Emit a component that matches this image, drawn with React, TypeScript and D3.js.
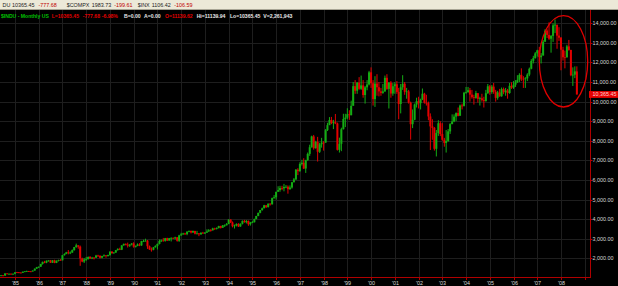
import React from "react";
import * as d3 from "d3";

// ---- Data: $INDU monthly, Jun 1984 .. Sep 2008 ----
const startMonth = new Date(1984, 5, 1);
const firstOpen = 1104.85;

const closes = [
  1132.40, 1115.28, 1224.38, 1206.71, 1207.38, 1188.94, 1211.57,
  1286.77, 1284.01, 1266.78, 1258.06, 1315.41, 1335.46, 1347.45, 1334.01, 1328.63, 1374.31, 1472.13, 1546.67,
  1570.99, 1709.06, 1818.61, 1783.98, 1876.71, 1892.72, 1775.31, 1898.34, 1767.58, 1877.81, 1914.23, 1895.95,
  2158.04, 2223.99, 2304.69, 2286.36, 2291.57, 2418.53, 2572.07, 2662.95, 2596.28, 1993.53, 1833.55, 1938.83,
  1958.22, 2071.62, 1988.06, 2032.33, 2031.12, 2141.71, 2128.73, 2031.65, 2112.91, 2148.65, 2114.51, 2168.57,
  2342.32, 2258.39, 2293.62, 2418.80, 2480.15, 2440.06, 2660.66, 2737.27, 2692.82, 2645.08, 2706.27, 2753.20,
  2590.54, 2627.25, 2707.21, 2656.76, 2876.66, 2880.69, 2905.20, 2614.36, 2452.48, 2442.33, 2559.65, 2633.66,
  2736.39, 2882.18, 2913.86, 2887.87, 3027.50, 2906.75, 3024.82, 3043.60, 3016.77, 3069.10, 2894.68, 3168.83,
  3223.39, 3267.67, 3235.47, 3359.12, 3396.88, 3318.52, 3393.78, 3257.35, 3271.66, 3226.28, 3305.16, 3301.11,
  3310.03, 3370.81, 3435.11, 3427.55, 3527.43, 3516.08, 3539.47, 3651.25, 3555.12, 3680.59, 3683.95, 3754.09,
  3978.36, 3832.02, 3635.96, 3681.69, 3758.37, 3624.96, 3764.50, 3913.42, 3843.19, 3908.12, 3739.23, 3834.44,
  3843.86, 4011.05, 4157.69, 4321.27, 4465.14, 4556.10, 4708.47, 4610.56, 4789.08, 4755.48, 5074.49, 5117.12,
  5395.30, 5485.62, 5587.14, 5569.08, 5643.18, 5654.63, 5528.91, 5616.21, 5882.17, 6029.38, 6521.70, 6448.27,
  6813.09, 6877.74, 6583.48, 7008.99, 7331.04, 7672.79, 8222.61, 7622.42, 7945.26, 7442.08, 7823.13, 7908.25,
  7906.50, 8545.72, 8799.81, 9063.37, 8899.95, 8952.02, 8883.29, 7539.07, 7842.62, 8592.10, 9116.55, 9181.43,
  9358.83, 9306.58, 9786.16, 10789.04, 10559.74, 10970.80, 10655.15, 10829.28, 10336.95, 10729.86, 10877.81, 11497.12,
  10940.53, 10128.31, 10921.92, 10733.91, 10522.33, 10447.89, 10521.98, 11215.10, 10650.92, 10971.14, 10414.49, 10786.85,
  10887.36, 10495.28, 9878.78, 10734.97, 10911.94, 10502.40, 10522.81, 9949.75, 8847.56, 9075.14, 9851.56, 10021.50,
  9920.00, 10106.13, 10403.94, 9946.22, 9925.25, 9243.26, 8736.59, 8663.50, 7591.93, 8397.03, 8896.09, 8341.63,
  8053.81, 7891.08, 7992.13, 8480.09, 8850.26, 8985.44, 9233.80, 9415.82, 9275.06, 9801.12, 9782.46, 10453.92,
  10488.07, 10583.92, 10357.70, 10225.57, 10188.45, 10435.48, 10139.71, 10173.92, 10080.27, 10027.47, 10428.02, 10783.01,
  10489.94, 10766.23, 10503.76, 10192.51, 10467.48, 10274.97, 10640.91, 10481.60, 10568.70, 10440.07, 10805.87, 10717.50,
  10864.86, 10993.41, 11109.32, 11367.14, 11168.31, 11150.22, 11185.68, 11381.15, 11679.07, 12080.73, 12221.93, 12463.15,
  12621.69, 12268.63, 12354.35, 13062.91, 13627.64, 13408.62, 13211.99, 13357.74, 13895.63, 13930.01, 13371.72, 13264.82,
  12650.36, 12266.39, 12262.89, 12820.13, 12638.32, 11350.01, 11378.02, 11543.55, 10365.45,
];

const highs = [
  1143, 1140, 1245, 1245, 1230, 1235, 1220,
  1295, 1305, 1300, 1290, 1320, 1345, 1370, 1355, 1345, 1380, 1480, 1560,
  1580, 1720, 1830, 1870, 1890, 1900, 1915, 1910, 1925, 1890, 1930, 1960,
  2170, 2250, 2330, 2420, 2350, 2450, 2580, 2750, 2660, 2650, 2030, 2010,
  2070, 2090, 2110, 2070, 2060, 2175, 2180, 2150, 2130, 2200, 2160, 2185,
  2350, 2360, 2320, 2425, 2510, 2540, 2670, 2750, 2760, 2800, 2720, 2780,
  2820, 2660, 2760, 2770, 2890, 2950, 3000, 2930, 2650, 2550, 2580, 2660,
  2750, 2960, 2960, 3040, 3040, 3050, 3040, 3070, 3060, 3100, 3080, 3200,
  3300, 3300, 3300, 3380, 3420, 3420, 3420, 3410, 3400, 3290, 3320, 3350,
  3340, 3480, 3490, 3490, 3560, 3560, 3580, 3660, 3660, 3700, 3730, 3800,
  3990, 3990, 3880, 3720, 3780, 3790, 3780, 3930, 3960, 3950, 3930, 3860,
  3900, 4020, 4170, 4330, 4470, 4590, 4730, 4700, 4800, 4810, 5100, 5230,
  5400, 5680, 5700, 5700, 5800, 5740, 5720, 5720, 5900, 6100, 6560, 6600,
  6900, 7030, 7110, 7030, 7400, 7800, 8260, 8300, 8000, 8200, 7900, 8150,
  7980, 8600, 8920, 9210, 9220, 9070, 9370, 8930, 8160, 8670, 9380, 9380,
  9660, 9560, 10050, 11000, 11100, 11000, 11250, 11330, 11100, 10800, 11100, 11570,
  11750, 11100, 11300, 11400, 11000, 10700, 10900, 11330, 11400, 11000, 11050, 10950,
  11000, 11050, 10700, 10900, 11350, 11000, 10700, 10600, 10000, 9600, 9900, 10200,
  10250, 10150, 10670, 10450, 10350, 10000, 9400, 9100, 8700, 8550, 9050, 9000,
  8900, 8150, 8550, 8600, 8900, 9350, 9350, 9450, 9700, 9850, 9900, 10500,
  10750, 10750, 10700, 10600, 10350, 10550, 10400, 10250, 10400, 10250, 10600, 10900,
  10850, 10850, 10950, 10600, 10550, 10650, 10720, 10720, 10700, 10650, 10950, 10990,
  11050, 11100, 11350, 11450, 11700, 11300, 11250, 11450, 11740, 12170, 12340, 12530,
  12650, 12800, 12480, 13150, 13700, 13700, 14050, 13400, 14000, 14200, 13900, 13800,
  13300, 12800, 12600, 12900, 13150, 12650, 11750, 11800, 11800,
];

const lows = [
  1086, 1078, 1110, 1190, 1180, 1180, 1160,
  1180, 1265, 1245, 1245, 1250, 1295, 1315, 1310, 1295, 1320, 1365, 1455,
  1500, 1560, 1680, 1750, 1750, 1830, 1760, 1760, 1750, 1755, 1840, 1890,
  1895, 2140, 2210, 2200, 2215, 2280, 2390, 2540, 2490, 1616, 1800, 1760,
  1870, 1940, 1980, 1960, 1940, 2020, 2080, 1990, 2000, 2090, 2030, 2090,
  2130, 2240, 2240, 2280, 2390, 2420, 2420, 2640, 2660, 2550, 2580, 2660,
  2540, 2550, 2620, 2620, 2640, 2830, 2850, 2480, 2430, 2340, 2410, 2550,
  2450, 2710, 2830, 2850, 2850, 2880, 2900, 2860, 2980, 2960, 2850, 2840,
  3150, 3200, 3200, 3180, 3330, 3270, 3300, 3220, 3230, 3130, 3200, 3260,
  3240, 3300, 3350, 3360, 3420, 3450, 3470, 3530, 3520, 3560, 3600, 3680,
  3740, 3800, 3580, 3520, 3630, 3600, 3610, 3730, 3820, 3780, 3660, 3670,
  3800, 3830, 3990, 4150, 4300, 4430, 4550, 4570, 4600, 4690, 4750, 5040,
  5000, 5400, 5400, 5480, 5420, 5580, 5300, 5500, 5560, 5880, 6000, 6250,
  6420, 6740, 6560, 6360, 6980, 7230, 7650, 7550, 7600, 6940, 7380, 7650,
  7500, 7900, 8500, 8800, 8850, 8600, 8850, 7500, 7400, 7470, 8580, 8700,
  9100, 9070, 9300, 9800, 10400, 10400, 10600, 10600, 10200, 9900, 10580, 10830,
  10700, 9800, 9730, 10300, 10270, 10300, 10400, 10500, 10600, 9650, 10200, 10300,
  10400, 10400, 9100, 9400, 10600, 10350, 10150, 9900, 8060, 8650, 9050, 9700,
  9650, 9600, 10080, 9900, 9800, 9050, 7530, 8050, 7500, 7200, 8250, 8240,
  8000, 7700, 7400, 7950, 8350, 8850, 8950, 9000, 9250, 9300, 9600, 9750,
  10400, 10450, 10000, 10150, 9850, 10150, 9950, 9800, 10000, 9700, 10000, 10400,
  10350, 10400, 10400, 10000, 10100, 10250, 10250, 10380, 10300, 10150, 10400, 10650,
  10650, 10750, 10950, 11000, 11050, 10700, 10700, 11050, 11300, 11650, 11950, 12200,
  12300, 12050, 11950, 12350, 13050, 13250, 13150, 12500, 13050, 13500, 12700, 13100,
  11600, 12100, 11700, 12250, 12600, 11300, 10800, 11200, 10365.45,
];

const valueTicks = [2000, 3000, 4000, 5000, 6000, 7000, 8000, 9000, 10000, 11000, 12000, 13000, 14000];
const tickYears = [1985, 1986, 1987, 1988, 1989, 1990, 1991, 1992, 1993, 1994, 1995, 1996, 1997, 1998, 1999, 2000, 2001, 2002, 2003, 2004, 2005, 2006, 2007, 2008, 2009];
const yearLabels = ["'85", "'86", "'87", "'88", "'89", "'90", "'91", "'92", "'93", "'94", "'95", "'96", "'97", "'98", "'99", "'00", "'01", "'02", "'03", "'04", "'05", "'06", "'07", "'08", ""];
const lastValue = 10365.45;

// quote bar (first symbol is scrolled off the left edge in the reference: only "DU" shows)
const toolbarSyms = ["DU", "$COMPX", "$INX"];
const toolbarLast = ["10365.45", "1983.73", "1106.42"];
const toolbarChg = ["-777.68", "-199.61", "-106.59"];

const GREEN = "#14ac14";
const RED = "#e20000";
const AXIS = "#b00000";
const GRID = "#1e1e1e";
const FONT = "'Liberation Sans', Arial, sans-serif";

export default function App() {
  const W = 618, H = 286;
  const plotTop = 10, plotBottom = 277, plotRight = 590;

  const x = d3.scaleTime()
    .domain([new Date(1985, 0, 1), new Date(2008, 0, 1)])
    .range([15, 561]);
  const y = d3.scaleLinear().domain([2000, 14000]).range([258.3, 23.3]);

  const months = d3.timeMonth.range(startMonth, d3.timeMonth.offset(startMonth, closes.length));
  const candles = closes.map((c, i) => ({
    date: months[i],
    o: i === 0 ? firstOpen : closes[i - 1],
    h: highs[i],
    l: lows[i],
    c,
  }));
  const fmt = d3.format(",.2f");

  const fs = 5.4;
  const hfs = 5.1;
  const tbX = [[2.5, 12, 38.5], [66.7, 91.7, 114.3], [137.7, 151.7, 174.3]];

  return (
    <svg width={W} height={H} style={{ position: "fixed", left: 0, top: 0, display: "block" }}
      fontFamily={FONT}>
      <rect x={0} y={0} width={W} height={H} fill="#000" />
      {/* quote bar */}
      <rect x={0} y={0} width={W} height={plotTop} fill="#ece9d8" />
      <line x1={0} x2={W} y1={plotTop - 0.5} y2={plotTop - 0.5} stroke="#a8a595" strokeWidth={1} />
      <g fontSize={fs} dominantBaseline="central">
        {toolbarSyms.map((s, i) => (
          <g key={"tb" + i}>
            <text x={tbX[i][0]} y={4.8} fill="#222">{s}</text>
            <text x={tbX[i][1]} y={4.8} fill="#222">{toolbarLast[i]}</text>
            <text x={tbX[i][2]} y={4.8} fill="#c00000">{toolbarChg[i]}</text>
          </g>
        ))}
      </g>

      {/* grid */}
      <g>
        {tickYears.map((yr) => {
          const xx = Math.round(x(new Date(yr, 0, 1))) + 0.5;
          return <line key={"vg" + yr} x1={xx} x2={xx} y1={plotTop} y2={plotBottom} stroke={GRID} strokeWidth={1} />;
        })}
        {valueTicks.map((v) => {
          const yy = Math.round(y(v)) + 0.5;
          return <line key={"hg" + v} x1={0} x2={plotRight} y1={yy} y2={yy} stroke={GRID} strokeWidth={1} />;
        })}
      </g>

      {/* header */}
      <g fontSize={hfs} fontWeight="bold" dominantBaseline="central">
        <text x={1} y={15.7} fill="#00c000">$INDU - Monthly  US</text>
        <text x={51.7} y={15.7} fill={RED}>L=10365.45</text>
        <text x={82.7} y={15.7} fill={RED}>-777.68</text>
        <text x={101.7} y={15.7} fill={RED}>-6.98%</text>
        <text x={124} y={15.7} fill="#e8e8e8">B=0.00</text>
        <text x={144} y={15.7} fill="#e8e8e8">A=0.00</text>
        <text x={165} y={15.7} fill={RED}>O=11139.62</text>
        <text x={196.7} y={15.7} fill="#e8e8e8">Hi=11139.94</text>
        <text x={230} y={15.7} fill="#e8e8e8">Lo=10365.45</text>
        <text x={263.3} y={15.7} fill="#e8e8e8">V=2,261,943</text>
      </g>

      {/* candles */}
      <g>
        {candles.map((d, i) => {
          const cx = x(d.date);
          const up = d.c >= d.o;
          const col = up ? GREEN : RED;
          const yTop = y(Math.max(d.o, d.c));
          const yBot = y(Math.min(d.o, d.c));
          return (
            <g key={i}>
              <line x1={cx} x2={cx} y1={y(d.h)} y2={y(d.l)} stroke={col} strokeWidth={1} />
              <rect x={cx - 1} y={yTop} width={2} height={Math.max(0.8, yBot - yTop)} fill={col} />
            </g>
          );
        })}
      </g>

      {/* axes */}
      <line x1={plotRight + 0.5} x2={plotRight + 0.5} y1={plotTop} y2={plotBottom} stroke={AXIS} strokeWidth={1} />
      <line x1={0} x2={plotRight + 1} y1={plotBottom + 0.5} y2={plotBottom + 0.5} stroke={AXIS} strokeWidth={1} />
      <g fontSize={fs} fill="#d8d8d8">
        {valueTicks.map((v) => {
          const yy = y(v);
          return (
            <g key={"vt" + v}>
              <line x1={plotRight} x2={plotRight + 2.5} y1={Math.round(yy) + 0.5} y2={Math.round(yy) + 0.5} stroke={AXIS} />
              <text x={592.5} y={yy} dominantBaseline="central">{fmt(v)}</text>
            </g>
          );
        })}
        {tickYears.map((yr, i) => {
          const xx = Math.round(x(new Date(yr, 0, 1))) + 0.5;
          return (
            <g key={"xt" + yr}>
              <line x1={xx} x2={xx} y1={plotBottom} y2={plotBottom + 3} stroke={AXIS} />
              <text x={xx} y={283.3} textAnchor="middle" dominantBaseline="central">{yearLabels[i]}</text>
            </g>
          );
        })}
      </g>

      {/* last price marker */}
      <rect x={589} y={y(lastValue) - 3.4} width={W - 589} height={6.8} fill="#e80000" />
      <text x={592.5} y={y(lastValue)} fontSize={fs} fill="#ffd0d0" dominantBaseline="central">{fmt(lastValue)}</text>

      {/* annotation ellipse */}
      <ellipse cx={563.5} cy={61.3} rx={24.2} ry={45.7} fill="none" stroke="#e00000" strokeWidth={1.3} />
    </svg>
  );
}
